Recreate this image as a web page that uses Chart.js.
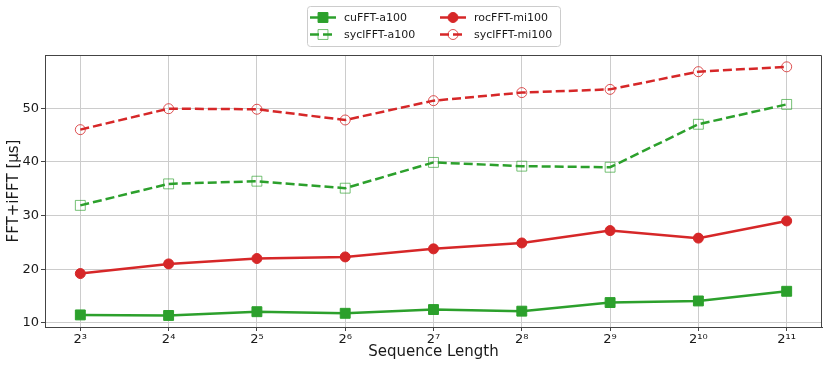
<!DOCTYPE html>
<html>
<head>
<meta charset="utf-8">
<script src="https://cdn.jsdelivr.net/npm/chart.js@4.4.1/dist/chart.umd.min.js"></script>
<style>
  html, body { margin: 0; padding: 0; background: #fff; }
  canvas { display: block; }
</style>
</head>
<body>
<canvas id="fftChart" width="830" height="369"></canvas>
<script>
// sequence length = 2^n, n from 3 to 11
const exponents = [3, 4, 5, 6, 7, 8, 9, 10, 11];
const supDigits = ['⁰', '¹', '²', '³', '⁴', '⁵', '⁶', '⁷', '⁸', '⁹'];

// FFT+iFFT time in microseconds
const cufftA100    = [11.5, 11.4, 12.1, 11.8, 12.5, 12.2, 13.8, 14.1, 15.9];
const syclfftA100  = [31.9, 35.9, 36.4, 35.1, 39.9, 39.2, 39.0, 47.0, 50.7];
const rocfftMi100  = [19.2, 21.0, 22.0, 22.3, 23.8, 24.9, 27.2, 25.8, 29.0];
const syclfftMi100 = [46.0, 49.9, 49.8, 47.8, 51.4, 52.9, 53.5, 56.8, 57.7];

const GREEN = '#2ca02c';
const RED = '#d62728';
const FONT = 'DejaVu Sans';

function toPoints(vals) {
  return vals.map((v, i) => ({ x: exponents[i], y: v }));
}

function supLabel(n) {
  return '2' + String(n).split('').map(d => supDigits[+d]).join('');
}

// matplotlib-style frame + legend box (2 columns, column-major)
const frameAndLegend = {
  id: 'frameAndLegend',
  afterDraw(chart) {
    const ctx = chart.ctx;
    const a = chart.chartArea;
    ctx.save();
    ctx.strokeStyle = '#444';
    ctx.lineWidth = 1;
    ctx.beginPath();
    ctx.moveTo(Math.round(a.left) + 0.5, Math.round(a.top) + 0.5);
    ctx.lineTo(Math.round(a.right) - 0.5, Math.round(a.top) + 0.5);
    ctx.lineTo(Math.round(a.right) - 0.5, Math.round(a.bottom));
    ctx.stroke();

    // legend frame
    ctx.fillStyle = 'rgba(255,255,255,0.8)';
    ctx.strokeStyle = '#cccccc';
    ctx.beginPath();
    ctx.roundRect(307.5, 6.5, 253, 40, 3);
    ctx.fill();
    ctx.stroke();

    const cols = [[0, 1], [2, 3]];
    const colX = [310, 440];
    const rowY = [17.5, 34.5];
    ctx.font = '11px "' + FONT + '"';
    ctx.textBaseline = 'middle';
    cols.forEach((col, c) => {
      col.forEach((dsIndex, r) => {
        const ds = chart.data.datasets[dsIndex];
        const x = colX[c], y = rowY[r];
        ctx.strokeStyle = ds.borderColor;
        ctx.lineWidth = ds.borderWidth;
        ctx.setLineDash(ds.borderDash || []);
        ctx.beginPath();
        ctx.moveTo(x, y);
        ctx.lineTo(x + 26, y);
        ctx.stroke();
        ctx.setLineDash([]);
        ctx.fillStyle = ds.pointBackgroundColor;
        ctx.strokeStyle = ds.pointBorderColor;
        ctx.lineWidth = ds.pointBorderWidth;
        Chart.helpers.drawPoint(ctx, {
          pointStyle: ds.pointStyle, radius: ds.pointRadius,
          borderWidth: ds.pointBorderWidth, rotation: 0
        }, x + 13, y);
        ctx.fillStyle = '#1a1a1a';
        ctx.textAlign = 'left';
        ctx.fillText(ds.label, x + 34, y + 0.5);
      });
    });
    ctx.restore();
  }
};

const ctx = document.getElementById('fftChart').getContext('2d');
new Chart(ctx, {
  type: 'line',
  data: {
    datasets: [
      {
        label: 'cuFFT-a100', data: toPoints(cufftA100),
        borderColor: GREEN, borderWidth: 2.5,
        pointStyle: 'rect', pointRadius: 7, pointBorderWidth: 1,
        pointBackgroundColor: GREEN, pointBorderColor: GREEN
      },
      {
        label: 'syclFFT-a100', data: toPoints(syclfftA100),
        borderColor: GREEN, borderWidth: 2.5, borderDash: [9, 4],
        pointStyle: 'rect', pointRadius: 7, pointBorderWidth: 1,
        pointBackgroundColor: 'rgba(0,0,0,0)', pointBorderColor: 'rgba(44,160,44,0.65)'
      },
      {
        label: 'rocFFT-mi100', data: toPoints(rocfftMi100),
        borderColor: RED, borderWidth: 2.5,
        pointStyle: 'circle', pointRadius: 5, pointBorderWidth: 1,
        pointBackgroundColor: RED, pointBorderColor: RED
      },
      {
        label: 'syclFFT-mi100', data: toPoints(syclfftMi100),
        borderColor: RED, borderWidth: 2.5, borderDash: [9, 4],
        pointStyle: 'circle', pointRadius: 5, pointBorderWidth: 1,
        pointBackgroundColor: 'rgba(0,0,0,0)', pointBorderColor: 'rgba(214,39,40,0.8)'
      }
    ]
  },
  options: {
    responsive: false,
    animation: false,
    devicePixelRatio: 1,
    layout: { padding: { top: 55, right: 7, left: 0, bottom: 0 } },
    elements: { line: { tension: 0 } },
    plugins: {
      legend: { display: false },
      tooltip: { enabled: false }
    },
    scales: {
      x: {
        type: 'linear', min: 2.6, max: 11.4,
        afterFit(scale) { scale.height = 42; },
        grid: { color: '#cccccc', lineWidth: 1, tickLength: 4, tickColor: '#444' },
        border: { color: '#444', width: 1 },
        ticks: {
          stepSize: 1, includeBounds: false, padding: 1, color: '#1a1a1a',
          font: { family: FONT, size: 13 },
          callback: v => supLabel(v)
        },
        title: {
          display: true, text: 'Sequence Length', color: '#1a1a1a',
          font: { family: FONT, size: 15 }, padding: { top: 0, bottom: 8 }
        }
      },
      y: {
        min: 9.25, max: 59.9,
        afterFit(scale) { scale.width = 45; },
        grid: { color: '#cccccc', lineWidth: 1, tickLength: 4, tickColor: '#444' },
        border: { color: '#444', width: 1 },
        ticks: {
          stepSize: 10, includeBounds: false, padding: 2, color: '#1a1a1a',
          font: { family: FONT, size: 13 }
        },
        title: {
          display: true, text: 'FFT+iFFT [µs]', color: '#1a1a1a',
          font: { family: FONT, size: 15 }, padding: { top: 5, bottom: 0 }
        }
      }
    }
  },
  plugins: [frameAndLegend]
});
</script>
</body>
</html>
